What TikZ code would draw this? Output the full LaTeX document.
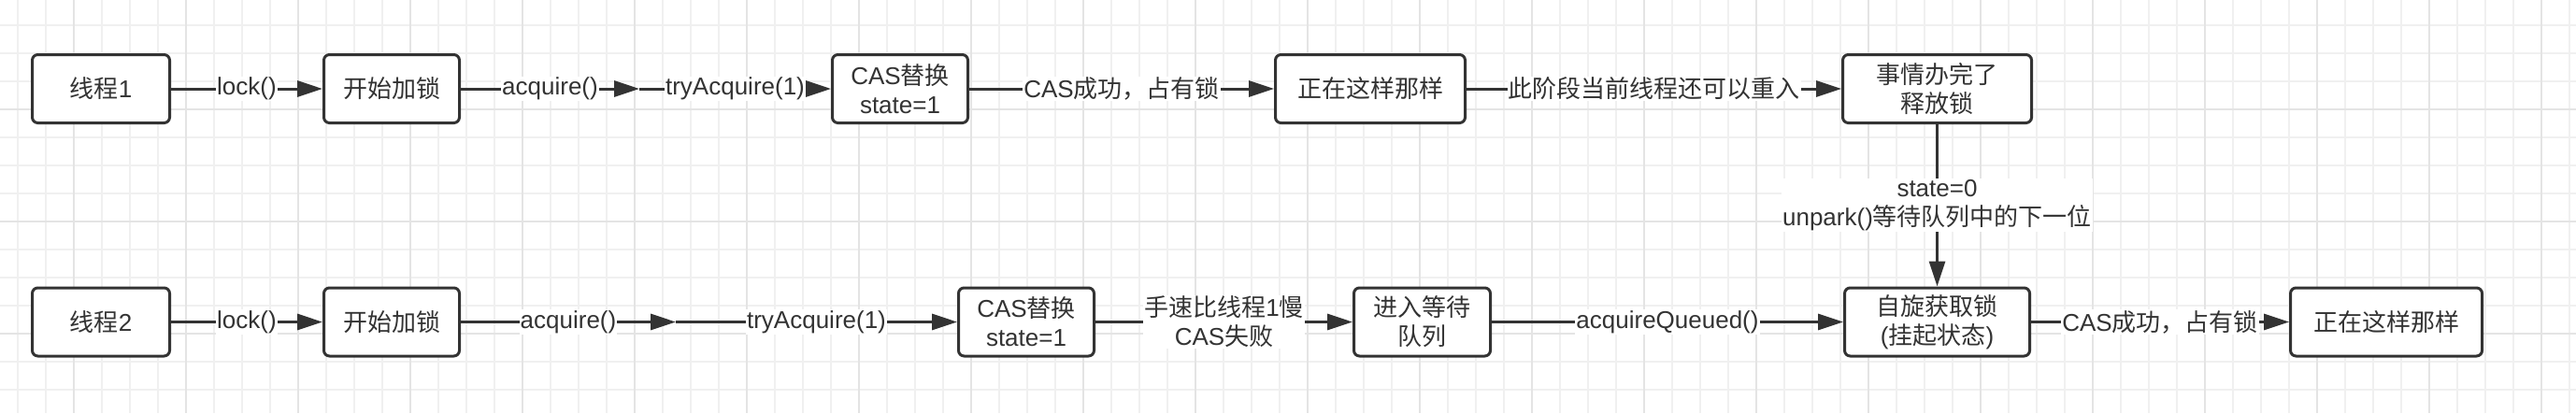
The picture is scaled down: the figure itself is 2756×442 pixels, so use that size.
\documentclass[tikz,border=0pt]{standalone}
\usepackage{fontspec}
\setmainfont{Liberation Sans}
\newfontfamily\cjk{Noto Sans CJK SC}
\usetikzlibrary{arrows.meta}
\definecolor{ink}{HTML}{333333}
\definecolor{gridminor}{HTML}{F0F0F0}
\definecolor{gridmajor}{HTML}{E4E4E4}
\newcommand\zh[1]{{\cjk #1}}
\tikzset{
  box/.style={draw=ink, line width=3pt, rounded corners=6pt, fill=white, text=ink,
    inner sep=0pt, minimum height=73pt, align=center,
    font=\fontsize{26pt}{31pt}\selectfont},
  lbl/.style={fill=white, text=ink, inner sep=1pt, align=center,
    font=\fontsize{26pt}{31pt}\selectfont},
  conn/.style={draw=ink, line width=3pt, -{Triangle[length=27pt,width=17pt]}},
  plain/.style={draw=ink, line width=3pt}
}
\begin{document}
\begin{tikzpicture}[x=1pt,y=-1pt]
\useasboundingbox (0,0) rectangle (2756,442);
\fill[white] (0,0) rectangle (2756,442);
% grid
\foreach \x in {19,49,...,2749} \draw[gridminor, line width=1.5pt] (\x,0) -- (\x,442);
\foreach \y in {27,57,...,417} \draw[gridminor, line width=1.5pt] (0,\y) -- (2756,\y);
\foreach \x in {79,199,...,2719} \draw[gridmajor, line width=2pt] (\x,0) -- (\x,442);
\foreach \y in {117,237,357} \draw[gridmajor, line width=2pt] (0,\y) -- (2756,\y);

% row 1
\node[box, minimum width=147pt] (t1) at (108,95) {\zh{线程}1};
\node[box, minimum width=145pt] (s1) at (419,95) {\zh{开始加锁}};
\coordinate (j1) at (684,95);
\node[box, minimum width=145pt] (c1) at (963,95) {CAS\zh{替换}\\state=1};
\node[box, minimum width=203pt] (d1) at (1466,95) {\zh{正在这样那样}};
\node[box, minimum width=202pt] (r1) at (2072.5,95) {\zh{事情办完了}\\\zh{释放锁}};

% row 2
\node[box, minimum width=147pt] (t2) at (108,344.5) {\zh{线程}2};
\node[box, minimum width=145pt] (s2) at (419,344.5) {\zh{开始加锁}};
\coordinate (j2) at (723,344.5);
\node[box, minimum width=145pt] (c2) at (1098,344.5) {CAS\zh{替换}\\state=1};
\node[box, minimum width=146pt] (q2) at (1521.5,344.5) {\zh{进入等待}\\\zh{队列}};
\node[box, minimum width=198pt] (p2) at (2072.5,344.5) {\zh{自旋获取锁}\\(\zh{挂起状态})};
\node[box, minimum width=205pt] (d2) at (2553,344.5) {\zh{正在这样那样}};

% row 1 connectors
\draw[conn] (t1) -- node[lbl] {lock()} (s1);
\draw[conn] (s1) -- node[lbl] {acquire()} (j1);
\draw[conn] (j1) -- node[lbl] {tryAcquire(1)} (c1);
\draw[conn] (c1) -- node[lbl] {CAS\zh{成功，占有锁}} (d1);
\draw[conn] (d1) -- node[lbl] {\zh{此阶段当前线程还可以重入}} (r1);
\draw[conn] (r1) -- node[lbl] {state=0\\unpark()\zh{等待队列中的下一位}} (p2);

% row 2 connectors
\draw[conn] (t2) -- node[lbl] {lock()} (s2);
\draw[conn] (s2) -- node[lbl] {acquire()} (j2);
\draw[conn] (j2) -- node[lbl] {tryAcquire(1)} (c2);
\draw[conn] (c2) -- node[lbl] {\zh{手速比线程}1\zh{慢}\\CAS\zh{失败}} (q2);
\draw[conn] (q2) -- node[lbl] {acquireQueued()} (p2);
\draw[conn] (p2) -- node[lbl] {CAS\zh{成功，占有锁}} (d2);
\end{tikzpicture}
\end{document}
